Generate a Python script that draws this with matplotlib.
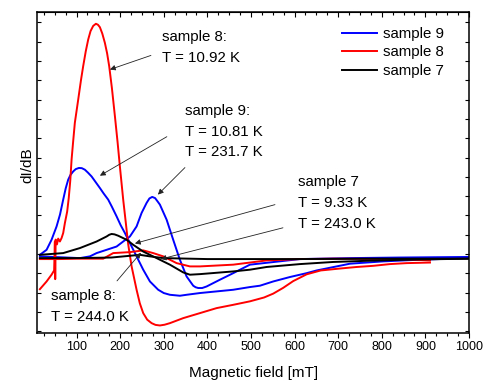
import matplotlib
matplotlib.use('Agg')
import matplotlib.pyplot as plt
from matplotlib.ticker import MultipleLocator

plt.rcParams['font.family'] = ['Liberation Sans', 'DejaVu Sans']

# sample 8, T = 10.92 K
s8_low_x = [15.8, 31.2, 42.6, 48.5, 50.2, 51.0, 52.0, 55.0, 57.8, 61.7, 65.6, 69.3, 73.2, 78.4, 82.0,
            85.5, 88.5, 92.0, 96.0, 103.7, 110.0, 115.1, 121.0, 126.6, 132.0, 138.1, 144.3, 149.0,
            153.5, 159.0, 164.9, 170.0, 174.8, 181.0, 187.9, 194.0, 199.3, 206.9, 212.0, 218.4, 226.2,
            237.6, 245.0, 252.8, 262.0, 272.1, 281.0, 291.1, 302.0, 314.0, 344.5, 382.9, 421.2, 459.2,
            497.5, 530.0, 551.0, 573.9, 596.9, 627.6, 660.0, 704.0, 742.3, 780.4, 818.7, 857.0, 910.5]
s8_low_y = [-1.82, -1.42, -1.07, -0.85, 0.65, -1.30, 0.75, 0.50, 0.80, 0.65, 0.83, 1.09, 1.61, 2.20, 2.90,
            3.80, 4.89, 5.80, 6.80, 8.00, 9.00, 9.73, 10.50, 11.11, 11.55, 11.82, 11.93, 11.88,
            11.75, 11.42, 10.94, 10.40, 9.73, 8.60, 7.14, 5.80, 4.54, 2.82, 1.80, 0.50, -0.64,
            -1.85, -2.55, -3.06, -3.40, -3.58, -3.67, -3.70, -3.66, -3.58, -3.32, -3.06, -2.80, -2.63,
            -2.45, -2.25, -2.05, -1.75, -1.40, -1.05, -0.85, -0.75, -0.67, -0.61, -0.52, -0.47, -0.44]

# sample 8, T = 244.0 K
s8_high_x = [15.8, 60.0, 100.0, 161.0, 184.0, 222.3, 252.8, 275.7, 298.7, 329.4, 359.9, 382.9, 459.2,
             535.9, 612.3, 688.6, 841.6, 910.5]
s8_high_y = [-0.26, -0.26, -0.24, -0.24, 0.05, 0.10, 0.19, 0.05, -0.12, -0.47, -0.64, -0.64, -0.55,
             -0.33, -0.26, -0.24, -0.26, -0.33]

# sample 9, T = 10.81 K
s9_low_x = [15.8, 31.2, 42.6, 54.1, 62.0, 69.3, 75.0, 80.7, 86.0, 92.2, 98.0, 105.3, 112.0, 119.0,
            126.0, 134.4, 143.0, 153.5, 162.0, 172.5, 181.0, 191.8, 201.0, 210.8, 222.3, 237.6, 252.8,
            268.2, 287.2, 300.0, 314.0, 337.0, 352.3, 382.9, 459.2, 497.5, 520.5, 551.0, 589.3, 627.6,
            650.6, 726.9, 803.3, 879.9, 994.7, 1000.0]
s9_low_y = [-0.04, 0.22, 0.74, 1.43, 2.05, 2.82, 3.40, 3.85, 4.10, 4.28, 4.40, 4.46, 4.45, 4.37,
            4.22, 4.02, 3.75, 3.42, 3.14, 2.82, 2.45, 1.95, 1.50, 1.09, 0.57, -0.12, -0.81,
            -1.42, -1.85, -2.02, -2.11, -2.16, -2.11, -2.02, -1.85, -1.71, -1.64, -1.42, -1.19, -0.99,
            -0.85, -0.50, -0.38, -0.30, -0.21, -0.21]

# sample 9, T = 231.7 K
s9_high_x = [15.8, 107.6, 130.5, 145.9, 168.8, 191.8, 206.9, 222.3, 237.6, 249.1, 260.6, 267.0, 273.4,
             280.0, 286.0, 291.1, 306.5, 321.6, 337.0, 352.3, 367.5, 373.0, 379.0, 388.0, 398.2, 428.7,
             459.2, 497.5, 612.3, 726.9, 841.6, 1000.0]
s9_high_y = [-0.12, -0.21, -0.12, 0.05, 0.22, 0.39, 0.65, 0.91, 1.43, 2.13, 2.65, 2.88, 2.96,
             2.90, 2.72, 2.56, 1.78, 0.74, -0.30, -1.16, -1.64, -1.72, -1.76, -1.76, -1.68, -1.33,
             -0.99, -0.55, -0.26, -0.21, -0.18, -0.15]

# sample 7, T = 9.33 K
s7_low_x = [15.8, 69.3, 107.6, 145.9, 168.8, 175.0, 180.3, 187.0, 195.4, 214.7, 229.8, 252.8, 283.5,
            314.0, 344.5, 359.9, 382.9, 459.2, 497.5, 535.9, 612.3, 688.6, 765.3, 841.6, 994.7, 1000.0]
s7_low_y = [-0.04, 0.05, 0.31, 0.65, 0.91, 1.00, 1.04, 1.02, 0.95, 0.74, 0.48, 0.13, -0.21,
            -0.55, -0.95, -1.07, -1.04, -0.90, -0.81, -0.67, -0.52, -0.41, -0.35, -0.30, -0.24, -0.24]

# sample 7, T = 243.0 K
s7_high_x = [15.8, 100.0, 180.0, 222.0, 245.0, 268.0, 299.0, 400.0, 600.0, 800.0, 1000.0]
s7_high_y = [-0.21, -0.21, -0.18, -0.09, -0.04, -0.12, -0.21, -0.26, -0.26, -0.24, -0.24]

fig = plt.figure(figsize=(4.85, 3.81), dpi=100)
ax = fig.add_axes([0.077, 0.127, 0.890, 0.841])

lw = 1.4
l9, = ax.plot(s9_low_x, s9_low_y, color='#0000ff', lw=lw, label='sample 9')
ax.plot(s9_high_x, s9_high_y, color='#0000ff', lw=lw)
l8, = ax.plot(s8_low_x, s8_low_y, color='#ff0000', lw=lw, label='sample 8')
ax.plot(s8_high_x, s8_high_y, color='#ff0000', lw=lw)
l7, = ax.plot(s7_low_x, s7_low_y, color='black', lw=lw, label='sample 7')
ax.plot(s7_high_x, s7_high_y, color='black', lw=lw)

ax.set_xlim(10, 1000)
ax.set_ylim(-4.07, 12.53)

ax.xaxis.set_major_locator(MultipleLocator(100))
ax.xaxis.set_minor_locator(MultipleLocator(25))
ax.yaxis.set_major_locator(MultipleLocator(1))
ax.tick_params(axis='x', which='both', direction='out', width=0.8, labelsize=9, pad=2.5)
ax.tick_params(axis='x', which='major', length=3.4)
ax.tick_params(axis='x', which='minor', length=2.0)
ax.tick_params(axis='y', which='both', direction='in', left=True, right=True,
               labelleft=False, length=3.0, width=0.8)
for s in ax.spines.values():
    s.set_linewidth(1.1)

top = ax.secondary_xaxis('top')
top.xaxis.set_major_locator(MultipleLocator(100))
top.xaxis.set_minor_locator(MultipleLocator(25))
top.tick_params(which='both', direction='in', labeltop=False, width=0.8)
top.tick_params(which='major', length=3.4)
top.tick_params(which='minor', length=2.0)

ax.set_xlabel('Magnetic field [mT]', fontsize=11, labelpad=9.5)
ax.set_ylabel('dI/dB', fontsize=11)
ax.yaxis.set_label_coords(-0.008, 0.524)

fs = 10.8
ls = 1.6
arrow = dict(arrowstyle='-|>', color='#222222', lw=0.6, mutation_scale=8, shrinkA=0, shrinkB=0)
ax.text(295.8, 10.70, 'sample 8:\nT = 10.92 K', fontsize=fs, ha='left', va='center', linespacing=ls)
ax.annotate('', xy=(176.4, 9.56), xytext=(270.5, 10.29), arrowprops=arrow)

ax.text(348.5, 6.33, 'sample 9:\nT = 10.81 K\nT = 231.7 K', fontsize=fs, ha='left', va='center',
        linespacing=ls)
ax.annotate('', xy=(153.5, 4.06), xytext=(307.0, 6.08), arrowprops=arrow)
ax.annotate('', xy=(286.5, 3.08), xytext=(348.5, 4.48), arrowprops=arrow)

ax.text(607.7, 2.65, 'sample 7\nT = 9.33 K\nT = 243.0 K', fontsize=fs, ha='left', va='center',
        linespacing=ls)
ax.annotate('', xy=(233.8, 0.55), xytext=(555.0, 2.56), arrowprops=arrow)
ax.annotate('', xy=(293.0, -0.26), xytext=(573.3, 1.36), arrowprops=arrow)

ax.text(41.2, -2.73, 'sample 8:\nT = 244.0 K', fontsize=fs, ha='left', va='center', linespacing=ls)
ax.annotate('', xy=(247.5, 0.07), xytext=(192.7, -1.39), arrowprops=arrow)

ax.legend(handles=[l9, l8, l7], loc='upper left', bbox_to_anchor=(0.706, 0.954), frameon=False,
          fontsize=fs, handlelength=2.33, handletextpad=0.4, labelspacing=0.3,
          borderpad=0, borderaxespad=0)

fig.savefig('out.png', dpi=100)
